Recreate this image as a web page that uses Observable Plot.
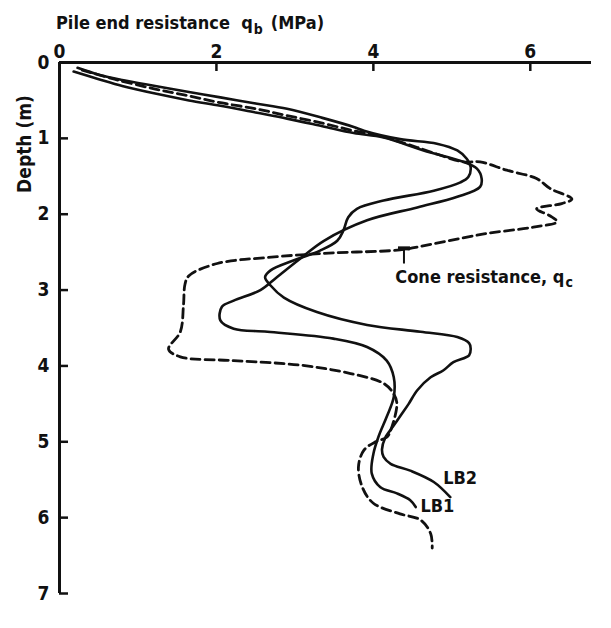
<!DOCTYPE html>
<html><head><meta charset="utf-8">
<script src="https://cdn.jsdelivr.net/npm/d3@7"></script>
<script src="https://cdn.jsdelivr.net/npm/@observablehq/plot@0.6"></script>
<style>
html,body{margin:0;padding:0;background:#fff;}
</style></head><body><div id="chart"></div>
<script>
// ---- data (resistance in MPa, depth in m) ----
const xTicks = [0, 2, 4, 6];
const depthTicks = [0, 1, 2, 3, 4, 5, 6, 7];

const lb2Resistance = [0.23,0.5,0.8,1.22,1.65,2.05,2.5,2.9,3.35,3.75,3.88,4.34,4.81,5.07,5.19,5.24,5.21,5.11,4.77,4.13,3.79,3.68,3.62,3.54,3.32,2.98,2.69,2.62,2.69,2.86,3.28,3.92,4.6,5.07,5.22,5.24,5.22,5.02,4.89,4.73,4.56,4.45,4.35,4.25,4.15,4.11,4.13,4.22,4.47,4.77,4.98];
const lb2Depth      = [0.07,0.16,0.23,0.31,0.39,0.46,0.54,0.61,0.73,0.85,0.90,1.01,1.07,1.16,1.27,1.38,1.51,1.58,1.69,1.82,1.93,2.04,2.21,2.35,2.48,2.61,2.74,2.83,2.94,3.10,3.29,3.46,3.55,3.62,3.70,3.77,3.86,3.95,4.06,4.15,4.32,4.5,4.65,4.8,4.95,5.1,5.2,5.29,5.38,5.53,5.73];

const lb1Resistance = [0.18,0.5,0.8,1.22,1.65,2.05,2.5,2.9,3.35,3.75,4.13,4.64,5.15,5.32,5.38,5.36,5.07,4.56,3.92,3.37,3.05,2.77,2.56,2.22,2.07,2.05,2.22,2.65,3.49,3.92,4.17,4.26,4.26,4.17,4.07,4.0,3.98,4.09,4.30,4.47,4.54];
const lb1Depth      = [0.12,0.22,0.31,0.41,0.50,0.57,0.66,0.74,0.84,0.93,0.99,1.16,1.31,1.40,1.53,1.64,1.77,1.91,2.08,2.35,2.60,2.83,3.0,3.14,3.22,3.40,3.51,3.55,3.64,3.75,3.93,4.15,4.41,4.67,4.92,5.16,5.42,5.6,5.68,5.77,5.86];

const coneResistance = [0.29,0.70,1.22,1.65,2.05,2.5,2.9,3.35,3.75,4.13,4.56,5.15,5.36,5.70,6.08,6.25,6.53,6.40,6.08,6.25,6.34,6.04,5.41,4.77,4.34,3.49,2.65,2.01,1.65,1.60,1.58,1.54,1.39,1.54,2.22,3.07,3.71,4.13,4.26,4.30,4.22,4.17,4.03,3.88,3.81,3.86,4.0,4.34,4.60,4.73,4.75];
const coneDepth      = [0.10,0.22,0.35,0.44,0.53,0.61,0.70,0.80,0.90,0.98,1.12,1.31,1.31,1.42,1.53,1.66,1.80,1.86,1.93,2.02,2.10,2.17,2.26,2.39,2.47,2.51,2.57,2.65,2.81,2.92,3.20,3.55,3.78,3.88,3.93,3.99,4.10,4.23,4.37,4.50,4.85,4.94,5.0,5.11,5.33,5.6,5.81,5.95,6.03,6.21,6.40];

// annotations
const curveLabels = ["LB2", "LB1"];
const curveLabelQ = [4.89, 4.60];
const curveLabelDepth = [5.55, 5.93];
const coneLabel = "Cone resistance, q";
const coneLabelSub = "c";
const coneLabelQ = 4.28;
const coneLabelDepth = 2.91;
const coneLeaderQ = [4.39];
const coneLeaderDepth = [2.45, 2.65];

const titleParts = ["Pile end resistance  q", "b", "(MPa)"];
const yLabelText = "Depth (m)";

// ---- build ----
const toRows = (qs, ds) => qs.map((q, i) => ({q, depth: ds[i]}));
const lb1 = toRows(lb1Resistance, lb1Depth);
const lb2 = toRows(lb2Resistance, lb2Depth);
const cone = toRows(coneResistance, coneDepth);
const curveLabelRows = curveLabels.map((t, i) => ({t, q: curveLabelQ[i], depth: curveLabelDepth[i]}));

const FONT = "'DejaVu Sans Condensed','DejaVu Sans',sans-serif";
const INK = "#111";

const chart = Plot.plot({
  width: 611,
  height: 628,
  marginTop: 62,
  marginLeft: 59,
  marginRight: 20,
  marginBottom: 35,
  style: {fontFamily: FONT, fontWeight: "bold", fontSize: "19px", fontStretch: "condensed", color: INK, background: "#fff"},
  x: {domain: [0, 6.78], axis: null},
  y: {domain: [0, 7], reverse: true, axis: null},
  marks: [
    // axis lines
    Plot.ruleY([0], {stroke: INK, strokeWidth: 3}),
    Plot.ruleX([0], {stroke: INK, strokeWidth: 3}),
    // x axis (top)
    Plot.axisX(xTicks, {anchor: "top", label: null, tickSize: 0, tickPadding: 5, tickFormat: d => String(d), fontSize: 19, fontWeight: "bold"}),
    Plot.axisX(xTicks.filter(d => d > 0), {anchor: "top", label: null, tickSize: -8, strokeWidth: 2.5, tickFormat: () => ""}),
    // y axis (left)
    Plot.axisY(depthTicks, {anchor: "left", label: null, tickSize: 0, tickPadding: 10, tickFormat: d => String(d), fontSize: 19, fontWeight: "bold"}),
    Plot.axisY(depthTicks.filter(d => d > 0), {anchor: "left", label: null, tickSize: -9, strokeWidth: 2.5, tickFormat: () => ""}),
    // curves
    Plot.line(cone, {x: "q", y: "depth", curve: "catmull-rom", stroke: INK, strokeWidth: 2.8, strokeDasharray: "9,5"}),
    Plot.line(lb1, {x: "q", y: "depth", curve: "catmull-rom", stroke: INK, strokeWidth: 2.6}),
    Plot.line(lb2, {x: "q", y: "depth", curve: "catmull-rom", stroke: INK, strokeWidth: 2.6}),
    // annotations
    Plot.text(curveLabelRows, {x: "q", y: "depth", text: "t", textAnchor: "start", lineAnchor: "bottom", fontSize: 18, fontWeight: "bold", fill: INK}),
    Plot.link(coneLeaderQ, {x1: d => d, x2: d => d, y1: coneLeaderDepth[0], y2: coneLeaderDepth[1], stroke: INK, strokeWidth: 2, markerStart: "tick"}),
    Plot.text([coneLabel], {x: coneLabelQ, y: coneLabelDepth, text: d => d, textAnchor: "start", lineAnchor: "bottom", fontSize: 18, fontWeight: "bold", fill: INK})
  ]
});

document.getElementById("chart").appendChild(chart);

const svg = d3.select(chart);
const addText = (x, y, str, size) => svg.append("text")
  .attr("x", x).attr("y", y).attr("text-anchor", "start")
  .attr("fill", INK).attr("font-family", FONT).attr("font-weight", "bold")
  .attr("font-stretch", "condensed").attr("font-size", size)
  .style("white-space", "pre").text(str);

// subscript on cone label (separate text right after the label)
const coneNode = svg.selectAll("text").filter(function () { return this.textContent === coneLabel; }).node();
if (coneNode) {
  const bb = coneNode.getBBox();
  const ctm = coneNode.getCTM();
  const ex = bb.x + bb.width + (ctm ? ctm.e : 0);
  const ey = bb.y + bb.height + (ctm ? ctm.f : 0);
  addText(ex + 1, ey, coneLabelSub, 14);
}

// title: "Pile end resistance q_b (MPa)"
const t1 = addText(56, 29, titleParts[0], 18);
const w1 = t1.node().getComputedTextLength();
const t2 = addText(56 + w1 + 1, 34, titleParts[1], 14);
const w2 = t2.node().getComputedTextLength();
addText(56 + w1 + w2 + 9, 29, titleParts[2], 18);

// y label
svg.append("text")
  .attr("transform", "translate(31,144) rotate(-90)")
  .attr("text-anchor", "middle")
  .attr("fill", INK).attr("font-family", FONT).attr("font-weight", "bold")
  .attr("font-stretch", "condensed").attr("font-size", 19)
  .style("white-space", "pre")
  .text(yLabelText);
</script></body></html>
